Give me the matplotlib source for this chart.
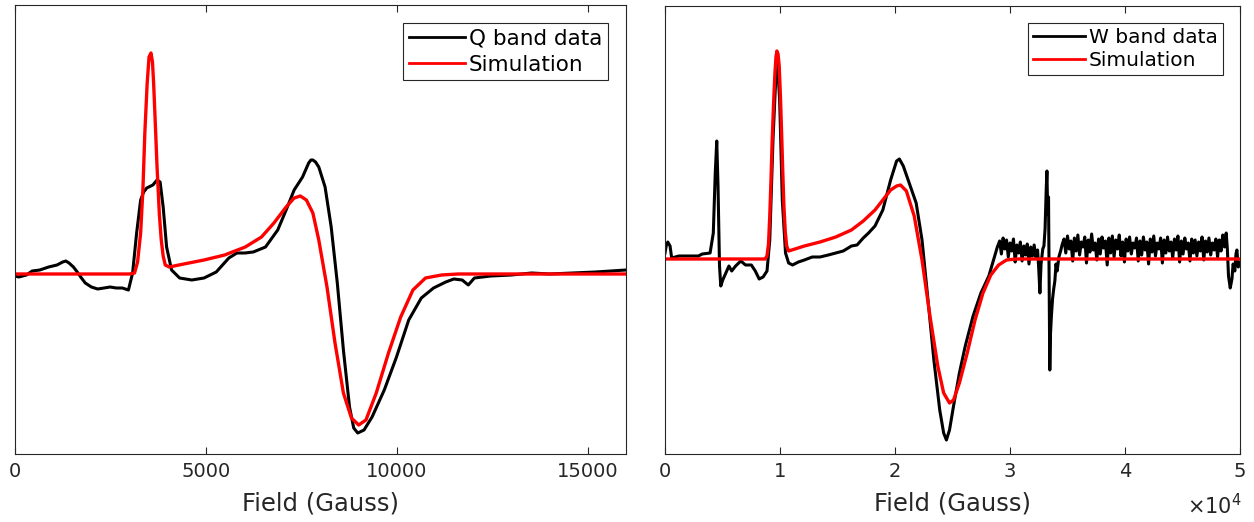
import matplotlib
matplotlib.use("Agg")
import matplotlib.pyplot as plt

# Q band (left panel): field in Gauss, signal in arbitrary units
q_field = [0, 100, 300, 450, 650, 880, 1100, 1250, 1330, 1415, 1530, 1630, 1740, 1840,
           2000, 2165, 2330, 2490, 2650, 2810, 2970, 3080, 3185, 3290, 3370, 3450, 3610,
           3720, 3800, 3880, 3970, 4100, 4310, 4630, 4950, 5270, 5600, 5810, 6020, 6240,
           6560, 6880, 7100, 7310, 7530, 7690, 7750, 7800, 7870, 7955, 8120, 8280, 8440,
           8600, 8760, 8870, 8975, 9140, 9350, 9670, 9990, 10310, 10640, 10960, 11280,
           11490, 11710, 11870, 12030, 12460, 13000, 13530, 14000, 14600, 15200, 15600,
           16000]
q_data = [-0.02, -0.03, -0.01, 0.03, 0.04, 0.07, 0.09, 0.12, 0.13, 0.11, 0.07, 0.02,
          -0.04, -0.09, -0.13, -0.15, -0.14, -0.13, -0.14, -0.14, -0.16, 0.01, 0.41,
          0.74, 0.82, 0.86, 0.89, 0.94, 0.92, 0.67, 0.27, 0.04, -0.04, -0.06, -0.04,
          0.02, 0.16, 0.21, 0.21, 0.22, 0.27, 0.44, 0.64, 0.84, 0.97, 1.11, 1.14, 1.14,
          1.12, 1.07, 0.87, 0.47, -0.09, -0.76, -1.33, -1.54, -1.59, -1.56, -1.43, -1.16,
          -0.83, -0.46, -0.24, -0.14, -0.08, -0.05, -0.06, -0.11, -0.04, -0.02, -0.01,
          0.01, 0.0, 0.01, 0.02, 0.03, 0.04]

q_sim_field = [0, 3000, 3130, 3210, 3290, 3350, 3400, 3460, 3510, 3560, 3600, 3630, 3680,
               3720, 3780, 3830, 3880, 3935, 4040, 4420, 4950, 5490, 6030, 6455, 6780,
               7100, 7310, 7470, 7630, 7800, 7955, 8170, 8380, 8600, 8810, 9000, 9190,
               9460, 9780, 10100, 10420, 10750, 11170, 11600, 16000]
q_sim = [0.0, 0.0, 0.01, 0.12, 0.41, 0.85, 1.41, 1.90, 2.17, 2.21, 2.12, 1.91, 1.45,
         1.07, 0.60, 0.34, 0.18, 0.09, 0.07, 0.10, 0.14, 0.19, 0.27, 0.37, 0.51, 0.67,
         0.76, 0.78, 0.74, 0.61, 0.34, -0.13, -0.69, -1.19, -1.44, -1.51, -1.46, -1.19,
         -0.79, -0.43, -0.16, -0.04, -0.01, 0.0, 0.0]

# W band (right panel), main part of the trace
w_field_main = [0, 120, 240, 340, 440, 580, 1200, 2220, 2900, 3240, 3920, 4200, 4370,
                4500, 4610, 4740, 4850, 5020, 5290, 5560, 5800, 6140, 6590, 7000, 7510,
                7850, 8190, 8530, 8870, 9110, 9390, 9730, 9970, 10200, 10480, 10750,
                11090, 11600, 12120, 12800, 13480, 14200, 14850, 15500, 16210, 16700,
                17240, 17700, 18260, 18940, 19620, 20140, 20380, 20720, 21330, 21840,
                22350, 22870, 23380, 23890, 24230, 24470, 24740, 25090, 25600, 26110,
                26790, 27470, 28160, 28670]
w_data_main = [0.06, 0.14, 0.17, 0.15, 0.13, 0.01, 0.03, 0.03, 0.03, 0.05, 0.06, 0.26,
               0.86, 1.18, 0.73, -0.07, -0.27, -0.21, -0.14, -0.07, -0.12, -0.07, -0.02,
               -0.06, -0.06, -0.12, -0.20, -0.18, -0.12, 0.19, 1.19, 2.06, 1.59, 0.59,
               0.06, -0.04, -0.06, -0.03, -0.01, 0.02, 0.02, 0.04, 0.06, 0.08, 0.13, 0.14,
               0.21, 0.26, 0.33, 0.49, 0.79, 0.98, 1.00, 0.93, 0.73, 0.56, 0.19, -0.41,
               -1.01, -1.51, -1.74, -1.81, -1.71, -1.47, -1.14, -0.87, -0.57, -0.34,
               -0.17, 0.03]

# W band, noisy baseline and the sharp feature near 33 kG
w_field_tail = [28900, 29100, 29250, 29400, 29550, 29700, 29850, 30000, 30150, 30300,
                30450, 30600, 30750, 30900, 31050, 31200, 31350, 31500, 31650, 31800,
                31950, 32100, 32250, 32400, 32500, 32600, 32700, 32850, 32950, 33050,
                33150, 33210, 33280, 33350, 33420, 33460, 33520, 33600, 33700, 33800,
                33900, 34000, 34100, 34250, 34400, 34550, 34700, 34850, 35000, 35150,
                35300, 35450, 35600, 35750, 35900, 36050, 36200, 36350, 36500, 36650,
                36800, 36950, 37100, 37250, 37400, 37550, 37700, 37850, 38000, 38150,
                38300, 38450, 38600, 38750, 38900, 39050, 39200, 39350, 39500, 39650,
                39800, 39950, 40100, 40250, 40400, 40550, 40700, 40850, 41000, 41150,
                41300, 41450, 41600, 41750, 41900, 42050, 42200, 42350, 42500, 42650,
                42800, 42950, 43100, 43250, 43400, 43550, 43700, 43850, 44000, 44150,
                44300, 44450, 44600, 44750, 44900, 45050, 45200, 45350, 45500, 45650,
                45800, 45950, 46100, 46250, 46400, 46550, 46700, 46850, 47000, 47150,
                47300, 47450, 47600, 47750, 47900, 48050, 48200, 48350, 48500, 48650,
                48800, 48900, 49000, 49150, 49300, 49400, 49550, 49650, 49730, 49850,
                50000]
w_data_tail = [0.12, 0.18, 0.05, 0.21, 0.10, 0.19, 0.02, 0.16, 0.08, 0.20, -0.03, 0.14,
               0.06, 0.17, -0.02, 0.13, 0.04, 0.15, -0.05, 0.12, 0.03, 0.14, 0.02, 0.09,
               -0.10, -0.34, -0.05, 0.10, 0.13, 0.30, 0.70, 0.88, 0.45, 0.62, -0.55,
               -1.11, -0.75, -0.57, -0.40, -0.30, -0.22, -0.05, -0.12, 0.02, 0.08, 0.15,
               0.20, 0.06, 0.23, 0.10, 0.18, -0.02, 0.21, 0.08, 0.24, 0.04, 0.17, 0.12,
               0.22, -0.04, 0.19, 0.07, 0.25, 0.09, 0.16, -0.01, 0.20, 0.05, 0.22, 0.11,
               0.18, -0.06, 0.21, 0.06, 0.23, 0.02, 0.19, 0.10, 0.24, 0.03, 0.17, -0.03,
               0.20, 0.08, 0.22, 0.05, 0.16, 0.11, 0.21, -0.02, 0.18, 0.04, 0.22, 0.09,
               0.17, -0.05, 0.20, 0.07, 0.23, 0.03, 0.16, 0.10, 0.21, -0.04, 0.19, 0.06,
               0.22, 0.08, 0.17, 0.01, 0.20, 0.09, 0.23, -0.03, 0.18, 0.05, 0.21, 0.10,
               0.16, -0.02, 0.20, 0.06, 0.19, 0.03, 0.17, 0.08, 0.22, -0.01, 0.18, 0.07,
               0.21, 0.04, 0.16, 0.09, 0.20, 0.02, 0.19, 0.08, 0.24, 0.12, 0.26, 0.10,
               -0.17, -0.29, -0.20, -0.05, -0.12, 0.05, 0.09, -0.08, -0.04]

w_sim_field = [0, 8700, 8870, 9000, 9110, 9220, 9320, 9450, 9560, 9650, 9730, 9830, 9930,
               10040, 10140, 10240, 10340, 10460, 10580, 10750, 12120, 13480, 14850,
               16210, 17240, 18260, 18940, 19620, 20140, 20480, 20990, 21670, 22350,
               23040, 23720, 24230, 24740, 25090, 25600, 26280, 26960, 27650, 28330,
               29010, 29690, 30550, 50000]
w_sim = [0.0, 0.0, 0.03, 0.15, 0.43, 0.80, 1.19, 1.58, 1.86, 2.02, 2.08, 2.05, 1.93,
         1.62, 1.26, 0.88, 0.53, 0.27, 0.13, 0.08, 0.13, 0.17, 0.22, 0.29, 0.38, 0.49,
         0.59, 0.69, 0.73, 0.74, 0.68, 0.43, -0.01, -0.57, -1.07, -1.34, -1.44, -1.41,
         -1.24, -0.94, -0.61, -0.34, -0.16, -0.06, -0.01, 0.0, 0.0]

w_ticks = [0, 10000, 20000, 30000, 40000, 50000]
w_tick_labels = ['0', '1', '2', '3', '4', '5']
q_ticks = [0, 5000, 10000, 15000]

plt.rcParams['font.family'] = ['DejaVu Sans']
edge = '#262626'

fig = plt.figure(figsize=(12.54, 5.22), dpi=100)
ax1 = fig.add_axes([15 / 1254, 68 / 522, 611 / 1254, 449 / 522])
ax2 = fig.add_axes([665 / 1254, 68 / 522, 575 / 1254, 448 / 522])

ax1.plot(q_field, q_data, color='black', lw=2.2, label='Q band data')
ax1.plot(q_sim_field, q_sim, color='red', lw=2.4, label='Simulation')
ax1.set_xlim(0, 16000)
ax1.set_ylim(-1.80, 2.69)
ax1.set_xticks(q_ticks)

ax2.plot(w_field_main + w_field_tail, w_data_main + w_data_tail, color='black',
         lw=2.2, label='W band data')
ax2.plot(w_sim_field, w_sim, color='red', lw=2.4, label='Simulation')
ax2.set_xlim(0, 50000)
ax2.set_ylim(-1.95, 2.53)
ax2.set_xticks(w_ticks)
ax2.set_xticklabels(w_tick_labels)
ax2.annotate(r'$\times10^4$', xy=(1, 0), xycoords='axes fraction',
             xytext=(2, -64), textcoords='offset pixels',
             ha='right', va='bottom', fontsize=15, color=edge)

# legend font size and row spacing differ a little between panels
leg_opts = {ax1: (15.5, 0.28), ax2: (14.5, 0.18)}

for ax in (ax1, ax2):
    ax.set_yticks([])
    ax.tick_params(axis='x', direction='in', top=True, bottom=True, length=5,
                   width=0.8, colors=edge, labelsize=14, pad=6)
    for s in ax.spines.values():
        s.set_color(edge)
        s.set_linewidth(0.8)
    ax.set_xlabel('Field (Gauss)', fontsize=17.5, color=edge, labelpad=7)
    fs, sp = leg_opts[ax]
    leg = ax.legend(loc='upper right', fontsize=fs, frameon=True, fancybox=False,
                    framealpha=1, edgecolor=edge, handlelength=2.6,
                    handletextpad=0.2, borderpad=0.25, labelspacing=sp,
                    borderaxespad=0.85)
    leg.get_frame().set_linewidth(0.8)
    for line in leg.get_lines():
        line.set_linewidth(2.0)

fig.savefig('out.png', dpi=100)
